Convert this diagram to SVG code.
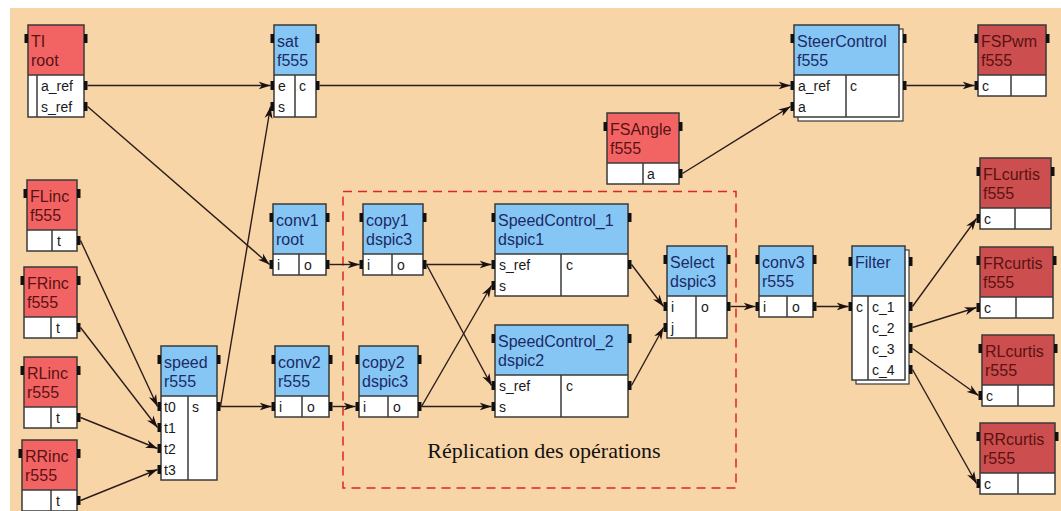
<svg xmlns="http://www.w3.org/2000/svg" width="1061" height="511" viewBox="0 0 1061 511">
<defs>
<style>
.hr{fill:#F26464}
.hd{fill:#CC4E4E}
.hb{fill:#86C6F4}
.bd{fill:#FFFFFF}
.fr{fill:none;stroke:#3a3a3a;stroke-width:1.5}
.dv{stroke:#3a3a3a;stroke-width:1.5}
.tab{fill:#111111}
.sh{fill:#FFFFFF;stroke:#3a3a3a;stroke-width:1.2}
.tb{font-family:"Liberation Sans",Arial,sans-serif;font-size:16px;fill:#1c2a66}
.tr{font-family:"Liberation Sans",Arial,sans-serif;font-size:16px;fill:#5a1212}
.p{font-family:"Liberation Sans",Arial,sans-serif;font-size:14px;fill:#1a1a1a}
.c{fill:none;stroke:#2b1d1d;stroke-width:1.4;marker-end:url(#ah)}
</style>
<marker id="ah" markerUnits="userSpaceOnUse" markerWidth="13" markerHeight="9" refX="12" refY="4.5" orient="auto">
<path d="M0,0.5 L12,4.5 L0,8.5 L3.5,4.5 z" fill="#1a1010"/>
</marker>
</defs>
<rect x="0" y="0" width="1061" height="511" fill="#FFFFFF"/>
<rect x="10" y="8" width="1051" height="503" fill="#F8D5A6"/>

<rect id="replication" x="343" y="191.5" width="393" height="296.5" fill="none" stroke="#E02424" stroke-width="1.5" stroke-dasharray="9,6"/>
<text x="544" y="458" text-anchor="middle" font-family="'Liberation Serif','Times New Roman',serif" font-size="22" fill="#111">Réplication des opérations</text>

<g id="connectors">
<path class="c" d="M87.5,85.5 L270.5,85.5"/>
<path class="c" d="M87.5,106.5 L269.5,264.5"/>
<path class="c" d="M319.5,85.5 L790.5,85.5"/>
<path class="c" d="M220.5,406.5 L270.5,106.5"/>
<path class="c" d="M220.5,406.5 L271.5,406.5"/>
<path class="c" d="M682.5,173.5 L790.5,106.5"/>
<path class="c" d="M906.5,85.5 L974.5,85.5"/>
<path class="c" d="M80.5,240.5 L157.5,406.5"/>
<path class="c" d="M80.5,327.5 L157.5,427.5"/>
<path class="c" d="M80.5,417.5 L157.5,448.5"/>
<path class="c" d="M80.5,500.5 L157.5,469.5"/>
<path class="c" d="M329.5,264.5 L359.5,264.5"/>
<path class="c" d="M332.5,406.5 L355.5,406.5"/>
<path class="c" d="M426.5,264.5 L491.5,264.5"/>
<path class="c" d="M426.5,264.5 L491.5,385.5"/>
<path class="c" d="M421.5,406.5 L491.5,285.5"/>
<path class="c" d="M421.5,406.5 L491.5,406.5"/>
<path class="c" d="M631.5,264.5 L663.5,306.5"/>
<path class="c" d="M631.5,385.5 L663.5,327.5"/>
<path class="c" d="M730.5,306.5 L755.5,306.5"/>
<path class="c" d="M816.5,306.5 L848.5,306.5"/>
<path class="c" d="M912.5,306.5 L976.5,218.5"/>
<path class="c" d="M912.5,327.5 L976.5,307.5"/>
<path class="c" d="M912.5,348.5 L978.5,395.5"/>
<path class="c" d="M912.5,369.5 L976.5,483.5"/>
</g>

<!-- TI -->
<g id="n-TI">
<rect class="hr" x="28" y="25" width="56" height="50"/>
<rect class="bd" x="28" y="75" width="56" height="42"/>
<line class="dv" x1="28" y1="75" x2="84" y2="75"/>
<line class="dv" x1="37" y1="75" x2="37" y2="117"/>
<rect class="fr" x="28" y="25" width="56" height="92"/>
<text class="tr" x="31" y="47">TI</text>
<text class="tr" x="31" y="66">root</text>
<text class="p" x="41" y="90.5">a_ref</text>
<text class="p" x="41" y="111.5">s_ref</text>
<rect class="tab" x="24.5" y="34" width="3.5" height="9"/>
<rect class="tab" x="84" y="34" width="3.5" height="9"/>
<rect class="tab" x="84" y="81" width="3.5" height="9"/>
<rect class="tab" x="84" y="102" width="3.5" height="9"/>
</g>

<!-- sat -->
<g id="n-sat">
<rect class="hb" x="274" y="25" width="42" height="50"/>
<rect class="bd" x="274" y="75" width="42" height="42"/>
<line class="dv" x1="274" y1="75" x2="316" y2="75"/>
<line class="dv" x1="295" y1="75" x2="295" y2="117"/>
<rect class="fr" x="274" y="25" width="42" height="92"/>
<text class="tb" x="277" y="47">sat</text>
<text class="tb" x="277" y="66">f555</text>
<text class="p" x="278" y="90.5">e</text>
<text class="p" x="278" y="111.5">s</text>
<text class="p" x="299" y="90.5">c</text>
<rect class="tab" x="270.5" y="34" width="3.5" height="9"/>
<rect class="tab" x="316" y="34" width="3.5" height="9"/>
<rect class="tab" x="270.5" y="81" width="3.5" height="9"/>
<rect class="tab" x="270.5" y="102" width="3.5" height="9"/>
<rect class="tab" x="316" y="81" width="3.5" height="9"/>
</g>

<!-- SteerControl -->
<g id="n-SteerControl">
<rect class="sh" x="798" y="29" width="105" height="92"/>
<rect class="hb" x="794" y="25" width="105" height="50"/>
<rect class="bd" x="794" y="75" width="105" height="42"/>
<line class="dv" x1="794" y1="75" x2="899" y2="75"/>
<line class="dv" x1="846" y1="75" x2="846" y2="117"/>
<rect class="fr" x="794" y="25" width="105" height="92"/>
<text class="tb" x="797" y="47">SteerControl</text>
<text class="tb" x="797" y="66">f555</text>
<text class="p" x="798" y="90.5">a_ref</text>
<text class="p" x="798" y="111.5">a</text>
<text class="p" x="850" y="90.5">c</text>
<rect class="tab" x="790.5" y="34" width="3.5" height="9"/>
<rect class="tab" x="903" y="34" width="3.5" height="9"/>
<rect class="tab" x="790.5" y="81" width="3.5" height="9"/>
<rect class="tab" x="790.5" y="102" width="3.5" height="9"/>
<rect class="tab" x="903" y="81" width="3.5" height="9"/>
</g>

<!-- FSPwm -->
<g id="n-FSPwm">
<rect class="hd" x="978" y="25" width="68" height="50"/>
<rect class="bd" x="978" y="75" width="68" height="21"/>
<line class="dv" x1="978" y1="75" x2="1046" y2="75"/>
<line class="dv" x1="1011" y1="75" x2="1011" y2="96"/>
<rect class="fr" x="978" y="25" width="68" height="71"/>
<text class="tr" x="981" y="47">FSPwm</text>
<text class="tr" x="981" y="66">f555</text>
<text class="p" x="982" y="90.5">c</text>
<rect class="tab" x="974.5" y="34" width="3.5" height="9"/>
<rect class="tab" x="1046" y="34" width="3.5" height="9"/>
<rect class="tab" x="974.5" y="81" width="3.5" height="9"/>
</g>

<!-- FSAngle -->
<g id="n-FSAngle">
<rect class="hr" x="607" y="113" width="72" height="50"/>
<rect class="bd" x="607" y="163" width="72" height="21"/>
<line class="dv" x1="607" y1="163" x2="679" y2="163"/>
<line class="dv" x1="643" y1="163" x2="643" y2="184"/>
<rect class="fr" x="607" y="113" width="72" height="71"/>
<text class="tr" x="610" y="135">FSAngle</text>
<text class="tr" x="610" y="154">f555</text>
<text class="p" x="647" y="178.5">a</text>
<rect class="tab" x="603.5" y="122" width="3.5" height="9"/>
<rect class="tab" x="679" y="122" width="3.5" height="9"/>
<rect class="tab" x="679" y="169" width="3.5" height="9"/>
</g>

<!-- FLinc -->
<g id="n-FLinc">
<rect class="hr" x="27" y="180" width="50" height="50"/>
<rect class="bd" x="27" y="230" width="50" height="21"/>
<line class="dv" x1="27" y1="230" x2="77" y2="230"/>
<line class="dv" x1="52" y1="230" x2="52" y2="251"/>
<rect class="fr" x="27" y="180" width="50" height="71"/>
<text class="tr" x="30" y="202">FLinc</text>
<text class="tr" x="30" y="221">f555</text>
<text class="p" x="57" y="245.5">t</text>
<rect class="tab" x="23.5" y="189" width="3.5" height="9"/>
<rect class="tab" x="77" y="189" width="3.5" height="9"/>
<rect class="tab" x="77" y="236" width="3.5" height="9"/>
</g>

<!-- FRinc -->
<g id="n-FRinc">
<rect class="hr" x="24" y="267" width="53" height="50"/>
<rect class="bd" x="24" y="317" width="53" height="21"/>
<line class="dv" x1="24" y1="317" x2="77" y2="317"/>
<line class="dv" x1="51" y1="317" x2="51" y2="338"/>
<rect class="fr" x="24" y="267" width="53" height="71"/>
<text class="tr" x="27" y="289">FRinc</text>
<text class="tr" x="27" y="308">f555</text>
<text class="p" x="56" y="332.5">t</text>
<rect class="tab" x="20.5" y="276" width="3.5" height="9"/>
<rect class="tab" x="77" y="276" width="3.5" height="9"/>
<rect class="tab" x="77" y="323" width="3.5" height="9"/>
</g>

<!-- RLinc -->
<g id="n-RLinc">
<rect class="hr" x="24" y="357" width="53" height="50"/>
<rect class="bd" x="24" y="407" width="53" height="21"/>
<line class="dv" x1="24" y1="407" x2="77" y2="407"/>
<line class="dv" x1="51" y1="407" x2="51" y2="428"/>
<rect class="fr" x="24" y="357" width="53" height="71"/>
<text class="tr" x="27" y="379">RLinc</text>
<text class="tr" x="27" y="398">r555</text>
<text class="p" x="56" y="422.5">t</text>
<rect class="tab" x="20.5" y="366" width="3.5" height="9"/>
<rect class="tab" x="77" y="366" width="3.5" height="9"/>
<rect class="tab" x="77" y="413" width="3.5" height="9"/>
</g>

<!-- RRinc -->
<g id="n-RRinc">
<rect class="hr" x="22" y="440" width="55" height="50"/>
<rect class="bd" x="22" y="490" width="55" height="21"/>
<line class="dv" x1="22" y1="490" x2="77" y2="490"/>
<line class="dv" x1="51" y1="490" x2="51" y2="511"/>
<rect class="fr" x="22" y="440" width="55" height="71"/>
<text class="tr" x="25" y="462">RRinc</text>
<text class="tr" x="25" y="481">r555</text>
<text class="p" x="56" y="505.5">t</text>
<rect class="tab" x="18.5" y="449" width="3.5" height="9"/>
<rect class="tab" x="77" y="449" width="3.5" height="9"/>
<rect class="tab" x="77" y="496" width="3.5" height="9"/>
</g>

<!-- speed -->
<g id="n-speed">
<rect class="hb" x="161" y="346" width="56" height="50"/>
<rect class="bd" x="161" y="396" width="56" height="84"/>
<line class="dv" x1="161" y1="396" x2="217" y2="396"/>
<line class="dv" x1="188" y1="396" x2="188" y2="480"/>
<rect class="fr" x="161" y="346" width="56" height="134"/>
<text class="tb" x="164" y="368">speed</text>
<text class="tb" x="164" y="387">r555</text>
<text class="p" x="164" y="411.5">t0</text>
<text class="p" x="164" y="432.5">t1</text>
<text class="p" x="164" y="453.5">t2</text>
<text class="p" x="164" y="474.5">t3</text>
<text class="p" x="192" y="411.5">s</text>
<rect class="tab" x="157.5" y="355" width="3.5" height="9"/>
<rect class="tab" x="217" y="355" width="3.5" height="9"/>
<rect class="tab" x="157.5" y="402" width="3.5" height="9"/>
<rect class="tab" x="157.5" y="423" width="3.5" height="9"/>
<rect class="tab" x="157.5" y="444" width="3.5" height="9"/>
<rect class="tab" x="157.5" y="465" width="3.5" height="9"/>
<rect class="tab" x="217" y="402" width="3.5" height="9"/>
</g>

<!-- conv1 -->
<g id="n-conv1">
<rect class="hb" x="273" y="204" width="53" height="50"/>
<rect class="bd" x="273" y="254" width="53" height="21"/>
<line class="dv" x1="273" y1="254" x2="326" y2="254"/>
<line class="dv" x1="299" y1="254" x2="299" y2="275"/>
<rect class="fr" x="273" y="204" width="53" height="71"/>
<text class="tb" x="276" y="226">conv1</text>
<text class="tb" x="276" y="245">root</text>
<text class="p" x="277" y="269.5">i</text>
<text class="p" x="304" y="269.5">o</text>
<rect class="tab" x="269.5" y="213" width="3.5" height="9"/>
<rect class="tab" x="326" y="213" width="3.5" height="9"/>
<rect class="tab" x="269.5" y="260" width="3.5" height="9"/>
<rect class="tab" x="326" y="260" width="3.5" height="9"/>
</g>

<!-- conv2 -->
<g id="n-conv2">
<rect class="hb" x="275" y="346" width="54" height="50"/>
<rect class="bd" x="275" y="396" width="54" height="21"/>
<line class="dv" x1="275" y1="396" x2="329" y2="396"/>
<line class="dv" x1="302" y1="396" x2="302" y2="417"/>
<rect class="fr" x="275" y="346" width="54" height="71"/>
<text class="tb" x="278" y="368">conv2</text>
<text class="tb" x="278" y="387">r555</text>
<text class="p" x="279" y="411.5">i</text>
<text class="p" x="307" y="411.5">o</text>
<rect class="tab" x="271.5" y="355" width="3.5" height="9"/>
<rect class="tab" x="329" y="355" width="3.5" height="9"/>
<rect class="tab" x="271.5" y="402" width="3.5" height="9"/>
<rect class="tab" x="329" y="402" width="3.5" height="9"/>
</g>

<!-- copy1 -->
<g id="n-copy1">
<rect class="hb" x="363" y="204" width="60" height="50"/>
<rect class="bd" x="363" y="254" width="60" height="21"/>
<line class="dv" x1="363" y1="254" x2="423" y2="254"/>
<line class="dv" x1="392" y1="254" x2="392" y2="275"/>
<rect class="fr" x="363" y="204" width="60" height="71"/>
<text class="tb" x="366" y="226">copy1</text>
<text class="tb" x="366" y="245">dspic3</text>
<text class="p" x="367" y="269.5">i</text>
<text class="p" x="397" y="269.5">o</text>
<rect class="tab" x="359.5" y="213" width="3.5" height="9"/>
<rect class="tab" x="423" y="213" width="3.5" height="9"/>
<rect class="tab" x="359.5" y="260" width="3.5" height="9"/>
<rect class="tab" x="423" y="260" width="3.5" height="9"/>
</g>

<!-- copy2 -->
<g id="n-copy2">
<rect class="hb" x="359" y="346" width="59" height="50"/>
<rect class="bd" x="359" y="396" width="59" height="21"/>
<line class="dv" x1="359" y1="396" x2="418" y2="396"/>
<line class="dv" x1="388" y1="396" x2="388" y2="417"/>
<rect class="fr" x="359" y="346" width="59" height="71"/>
<text class="tb" x="362" y="368">copy2</text>
<text class="tb" x="362" y="387">dspic3</text>
<text class="p" x="363" y="411.5">i</text>
<text class="p" x="393" y="411.5">o</text>
<rect class="tab" x="355.5" y="355" width="3.5" height="9"/>
<rect class="tab" x="418" y="355" width="3.5" height="9"/>
<rect class="tab" x="355.5" y="402" width="3.5" height="9"/>
<rect class="tab" x="418" y="402" width="3.5" height="9"/>
</g>

<!-- SpeedControl_1 -->
<g id="n-SpeedControl_1">
<rect class="hb" x="495" y="204" width="133" height="50"/>
<rect class="bd" x="495" y="254" width="133" height="42"/>
<line class="dv" x1="495" y1="254" x2="628" y2="254"/>
<line class="dv" x1="561" y1="254" x2="561" y2="296"/>
<rect class="fr" x="495" y="204" width="133" height="92"/>
<text class="tb" x="498" y="226">SpeedControl_1</text>
<text class="tb" x="498" y="245">dspic1</text>
<text class="p" x="499" y="269.5">s_ref</text>
<text class="p" x="499" y="290.5">s</text>
<text class="p" x="566" y="269.5">c</text>
<rect class="tab" x="491.5" y="213" width="3.5" height="9"/>
<rect class="tab" x="628" y="213" width="3.5" height="9"/>
<rect class="tab" x="491.5" y="260" width="3.5" height="9"/>
<rect class="tab" x="491.5" y="281" width="3.5" height="9"/>
<rect class="tab" x="628" y="260" width="3.5" height="9"/>
</g>

<!-- SpeedControl_2 -->
<g id="n-SpeedControl_2">
<rect class="hb" x="495" y="325" width="133" height="50"/>
<rect class="bd" x="495" y="375" width="133" height="42"/>
<line class="dv" x1="495" y1="375" x2="628" y2="375"/>
<line class="dv" x1="561" y1="375" x2="561" y2="417"/>
<rect class="fr" x="495" y="325" width="133" height="92"/>
<text class="tb" x="498" y="347">SpeedControl_2</text>
<text class="tb" x="498" y="366">dspic2</text>
<text class="p" x="499" y="390.5">s_ref</text>
<text class="p" x="499" y="411.5">s</text>
<text class="p" x="566" y="390.5">c</text>
<rect class="tab" x="491.5" y="334" width="3.5" height="9"/>
<rect class="tab" x="628" y="334" width="3.5" height="9"/>
<rect class="tab" x="491.5" y="381" width="3.5" height="9"/>
<rect class="tab" x="491.5" y="402" width="3.5" height="9"/>
<rect class="tab" x="628" y="381" width="3.5" height="9"/>
</g>

<!-- Select -->
<g id="n-Select">
<rect class="hb" x="667" y="246" width="60" height="50"/>
<rect class="bd" x="667" y="296" width="60" height="42"/>
<line class="dv" x1="667" y1="296" x2="727" y2="296"/>
<line class="dv" x1="696" y1="296" x2="696" y2="338"/>
<rect class="fr" x="667" y="246" width="60" height="92"/>
<text class="tb" x="670" y="268">Select</text>
<text class="tb" x="670" y="287">dspic3</text>
<text class="p" x="671" y="311.5">i</text>
<text class="p" x="671" y="332.5">j</text>
<text class="p" x="701" y="311.5">o</text>
<rect class="tab" x="663.5" y="255" width="3.5" height="9"/>
<rect class="tab" x="727" y="255" width="3.5" height="9"/>
<rect class="tab" x="663.5" y="302" width="3.5" height="9"/>
<rect class="tab" x="663.5" y="323" width="3.5" height="9"/>
<rect class="tab" x="727" y="302" width="3.5" height="9"/>
</g>

<!-- conv3 -->
<g id="n-conv3">
<rect class="hb" x="759" y="246" width="54" height="50"/>
<rect class="bd" x="759" y="296" width="54" height="21"/>
<line class="dv" x1="759" y1="296" x2="813" y2="296"/>
<line class="dv" x1="787" y1="296" x2="787" y2="317"/>
<rect class="fr" x="759" y="246" width="54" height="71"/>
<text class="tb" x="762" y="268">conv3</text>
<text class="tb" x="762" y="287">r555</text>
<text class="p" x="763" y="311.5">i</text>
<text class="p" x="792" y="311.5">o</text>
<rect class="tab" x="755.5" y="255" width="3.5" height="9"/>
<rect class="tab" x="813" y="255" width="3.5" height="9"/>
<rect class="tab" x="755.5" y="302" width="3.5" height="9"/>
<rect class="tab" x="813" y="302" width="3.5" height="9"/>
</g>

<!-- Filter -->
<g id="n-Filter">
<rect class="sh" x="856" y="250" width="53" height="134"/>
<rect class="hb" x="852" y="246" width="53" height="50"/>
<rect class="bd" x="852" y="296" width="53" height="84"/>
<line class="dv" x1="852" y1="296" x2="905" y2="296"/>
<line class="dv" x1="868" y1="296" x2="868" y2="380"/>
<rect class="fr" x="852" y="246" width="53" height="134"/>
<text class="tb" x="855" y="268">Filter</text>
<text class="p" x="856" y="311.5">c</text>
<text class="p" x="872" y="311.5">c_1</text>
<text class="p" x="872" y="332.5">c_2</text>
<text class="p" x="872" y="353.5">c_3</text>
<text class="p" x="872" y="374.5">c_4</text>
<rect class="tab" x="848.5" y="257" width="3.5" height="9"/>
<rect class="tab" x="909" y="257" width="3.5" height="9"/>
<rect class="tab" x="848.5" y="302" width="3.5" height="9"/>
<rect class="tab" x="909" y="302" width="3.5" height="9"/>
<rect class="tab" x="909" y="323" width="3.5" height="9"/>
<rect class="tab" x="909" y="344" width="3.5" height="9"/>
<rect class="tab" x="909" y="365" width="3.5" height="9"/>
</g>

<!-- FLcurtis -->
<g id="n-FLcurtis">
<rect class="hd" x="980" y="158" width="71" height="50"/>
<rect class="bd" x="980" y="208" width="71" height="21"/>
<line class="dv" x1="980" y1="208" x2="1051" y2="208"/>
<line class="dv" x1="1015" y1="208" x2="1015" y2="229"/>
<rect class="fr" x="980" y="158" width="71" height="71"/>
<text class="tr" x="983" y="180">FLcurtis</text>
<text class="tr" x="983" y="199">f555</text>
<text class="p" x="984" y="223.5">c</text>
<rect class="tab" x="976.5" y="167" width="3.5" height="9"/>
<rect class="tab" x="1051" y="167" width="3.5" height="9"/>
<rect class="tab" x="976.5" y="214" width="3.5" height="9"/>
</g>

<!-- FRcurtis -->
<g id="n-FRcurtis">
<rect class="hd" x="980" y="247" width="73" height="50"/>
<rect class="bd" x="980" y="297" width="73" height="21"/>
<line class="dv" x1="980" y1="297" x2="1053" y2="297"/>
<line class="dv" x1="1016" y1="297" x2="1016" y2="318"/>
<rect class="fr" x="980" y="247" width="73" height="71"/>
<text class="tr" x="983" y="269">FRcurtis</text>
<text class="tr" x="983" y="288">f555</text>
<text class="p" x="984" y="312.5">c</text>
<rect class="tab" x="976.5" y="256" width="3.5" height="9"/>
<rect class="tab" x="1053" y="256" width="3.5" height="9"/>
<rect class="tab" x="976.5" y="303" width="3.5" height="9"/>
</g>

<!-- RLcurtis -->
<g id="n-RLcurtis">
<rect class="hd" x="982" y="335" width="72" height="50"/>
<rect class="bd" x="982" y="385" width="72" height="21"/>
<line class="dv" x1="982" y1="385" x2="1054" y2="385"/>
<line class="dv" x1="1018" y1="385" x2="1018" y2="406"/>
<rect class="fr" x="982" y="335" width="72" height="71"/>
<text class="tr" x="985" y="357">RLcurtis</text>
<text class="tr" x="985" y="376">r555</text>
<text class="p" x="986" y="400.5">c</text>
<rect class="tab" x="978.5" y="344" width="3.5" height="9"/>
<rect class="tab" x="1054" y="344" width="3.5" height="9"/>
<rect class="tab" x="978.5" y="391" width="3.5" height="9"/>
</g>

<!-- RRcurtis -->
<g id="n-RRcurtis">
<rect class="hd" x="980" y="423" width="75" height="50"/>
<rect class="bd" x="980" y="473" width="75" height="21"/>
<line class="dv" x1="980" y1="473" x2="1055" y2="473"/>
<line class="dv" x1="1018" y1="473" x2="1018" y2="494"/>
<rect class="fr" x="980" y="423" width="75" height="71"/>
<text class="tr" x="983" y="445">RRcurtis</text>
<text class="tr" x="983" y="464">r555</text>
<text class="p" x="984" y="488.5">c</text>
<rect class="tab" x="976.5" y="432" width="3.5" height="9"/>
<rect class="tab" x="1055" y="432" width="3.5" height="9"/>
<rect class="tab" x="976.5" y="479" width="3.5" height="9"/>
</g>
</svg>
